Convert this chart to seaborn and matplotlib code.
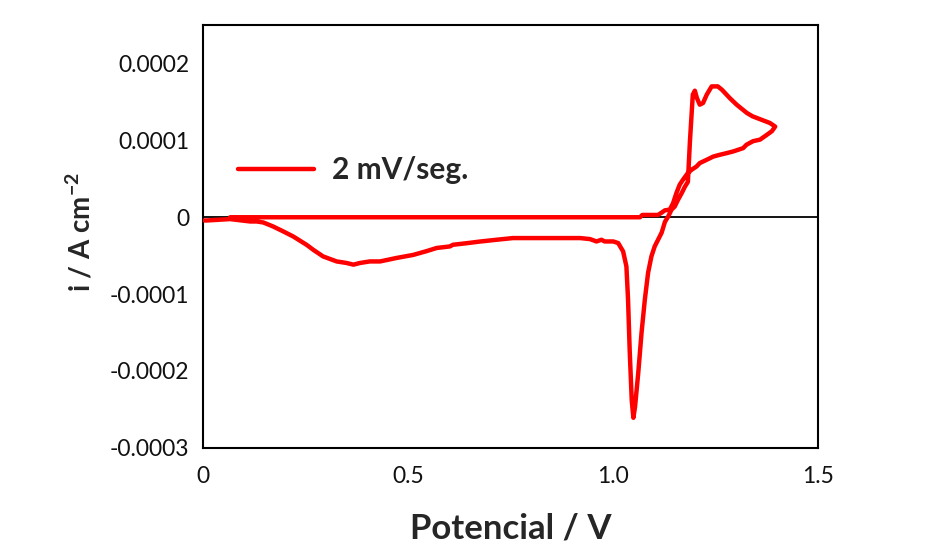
import numpy as np
import pandas as pd
import matplotlib
matplotlib.use("Agg")
import matplotlib.pyplot as plt
import seaborn as sns

# Potential (V) along the scan path
potential = [0.066, 0.30, 0.60, 0.90, 1.066,
             1.072, 1.11, 1.119, 1.127, 1.139, 1.147, 1.155, 1.163, 1.171, 1.183,
             1.192, 1.204, 1.212, 1.229, 1.245, 1.261, 1.278, 1.294, 1.318, 1.326,
             1.342, 1.359, 1.375, 1.388, 1.396,
             1.383, 1.362, 1.341, 1.327, 1.302, 1.285, 1.266, 1.256, 1.241, 1.229,
             1.220, 1.212, 1.205, 1.200, 1.195, 1.193, 1.188, 1.183, 1.176, 1.168,
             1.159, 1.151, 1.143, 1.135, 1.127, 1.119, 1.102, 1.094, 1.086, 1.078,
             1.070, 1.062, 1.054, 1.050, 1.046, 1.041, 1.037, 1.033, 1.025, 1.013,
             1.001, 0.980, 0.972, 0.960, 0.944, 0.920, 0.878, 0.838, 0.798, 0.756,
             0.716, 0.676, 0.643, 0.610, 0.602, 0.570, 0.546, 0.513, 0.472, 0.432,
             0.407, 0.383, 0.367, 0.350, 0.326, 0.293, 0.269, 0.253, 0.220, 0.196,
             0.171, 0.147, 0.131, 0.115, 0.066, 0.009, 0.003]

# Current density in units of 1e-4 A cm-2
current_e4 = [0.0, 0.0, 0.0, 0.0, 0.0,
              0.03, 0.03, 0.06, 0.09, 0.10, 0.185, 0.315, 0.423, 0.488, 0.576,
              0.618, 0.66, 0.705, 0.748, 0.79, 0.813, 0.835, 0.857, 0.90, 0.944,
              0.99, 1.01, 1.07, 1.12, 1.18,
              1.227, 1.27, 1.313, 1.357, 1.465, 1.552, 1.66, 1.703, 1.703, 1.595,
              1.487, 1.465, 1.552, 1.647, 1.595, 1.422, 0.987, 0.46, 0.40, 0.315,
              0.228, 0.14, 0.098, 0.01, -0.06, -0.20, -0.38, -0.51, -0.72, -1.07,
              -1.50, -2.02, -2.47, -2.61, -2.38, -1.73, -1.07, -0.64, -0.445, -0.336,
              -0.315, -0.315, -0.293, -0.315, -0.284, -0.271, -0.271, -0.271, -0.271, -0.271,
              -0.293, -0.316, -0.338, -0.358, -0.38, -0.40, -0.44, -0.49, -0.53, -0.575,
              -0.575, -0.595, -0.617, -0.595, -0.575, -0.51, -0.424, -0.36, -0.25, -0.185,
              -0.12, -0.068, -0.055, -0.055, -0.024, -0.042, -0.042]

x_ticks = [0, 0.5, 1.0, 1.5]
x_tick_labels = ["0", "0.5", "1.0", "1.5"]
y_ticks = [-0.0003, -0.0002, -0.0001, 0, 0.0001, 0.0002]
y_tick_labels = ["-0.0003", "-0.0002", "-0.0001", "0", "0.0001", "0.0002"]
series_label = "2 mV/seg."

df = pd.DataFrame({"E": potential, "i": np.array(current_e4) * 1e-4,
                   "serie": series_label})

sns.set_style("white")
plt.rcParams["font.family"] = ["Lato", "DejaVu Sans"]
plt.rcParams["mathtext.default"] = "regular"

fig = plt.figure(figsize=(9.4, 5.59), dpi=100)
ax = fig.add_axes([0.216, 0.199, 0.870 - 0.216, 0.955 - 0.199])

ax.axhline(0, color="black", lw=1.3, zorder=1)
sns.lineplot(data=df, x="E", y="i", hue="serie", palette=["#ff0000"],
             sort=False, estimator=None, lw=3.2, ax=ax, zorder=3)

ax.set_xlim(0, 1.5)
ax.set_ylim(-0.0003, 0.00025)
ax.set_xticks(x_ticks)
ax.set_xticklabels(x_tick_labels)
ax.set_yticks(y_ticks)
ax.set_yticklabels(y_tick_labels)
ax.set_xticks([0.25, 0.75, 1.25], minor=True)
ax.set_yticks([-0.00025, -0.00015, -0.00005, 0.00005, 0.00015], minor=True)

ax.tick_params(axis="both", which="both", direction="in", color="black",
               width=1.3, labelsize=16.5, labelcolor="#111111")
ax.tick_params(axis="both", which="major", length=7.5)
ax.tick_params(axis="both", which="minor", length=5.5)
ax.tick_params(axis="x", which="both", pad=13)
ax.tick_params(axis="y", which="both", pad=10)

for s in ax.spines.values():
    s.set_visible(True)
    s.set_color("black")
    s.set_linewidth(1.5)

ax.set_xlabel("Potencial / V", fontsize=25, fontweight="bold")
ax.xaxis.set_label_coords(0.5, (448 - 529) / 423)
ax.xaxis.label.set_verticalalignment("center")
ax.set_ylabel("i / A cm$^{-2}$", fontsize=20, fontweight="bold")
ax.yaxis.set_label_coords((80 - 203) / 615, (448 - 232) / 423)
ax.yaxis.label.set_verticalalignment("center")

leg = ax.legend(loc="center left", bbox_to_anchor=(0.057, 0.657), frameon=False,
                handlelength=2.55, handletextpad=0.6, borderpad=0, borderaxespad=0,
                prop={"size": 21.5, "weight": "bold"})

fig.savefig("out.png", dpi=100)
